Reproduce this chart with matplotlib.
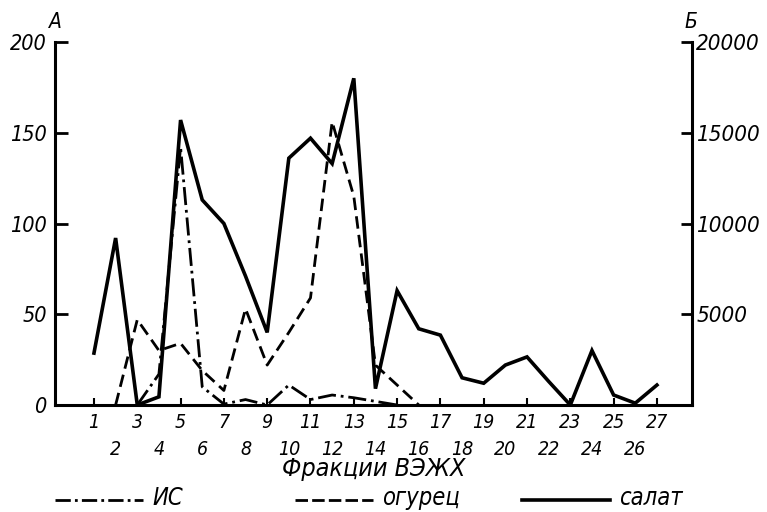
import numpy as np
import matplotlib
matplotlib.use("Agg")
import matplotlib.pyplot as plt
from matplotlib.lines import Line2D

plt.rcParams['font.family'] = ['DejaVu Sans']
plt.rcParams['font.style'] = 'italic'
plt.rcParams['font.stretch'] = 'condensed'
plt.rcParams['lines.scale_dashes'] = False

fractions = list(range(1, 28))
odd_labels = [str(i) for i in fractions if i % 2 == 1]
even_labels = [str(i) for i in fractions if i % 2 == 0]

nan = np.nan
# salat (right axis Б)
salat = [2860, 9200, 0, 450, 15700, 11300, 10000, 7100, 4000, 13600, 14700, 13300,
         18000, 900, 6300, 4200, 3850, 1500, 1200, 2200, 2650, 1300, 0, 3000, 550, 100, 1100]
# ogurets (left axis A)
ogurets = [nan, 0, 47, 30, 34, 19, 8, 53, 22, 40, 59, 156, 115, 22, 11, 0,
           nan, nan, nan, nan, nan, nan, nan, nan, nan, nan, nan]
# IC (left axis A)
ic = [nan, nan, 0, 17, 142, 10, 0.5, 3, 0, 11, 3, 5.5, 4, 2, 0,
      nan, nan, nan, nan, nan, nan, nan, nan, nan, nan, nan, nan]

left_ticks = [0, 50, 100, 150, 200]
right_ticks = [5000, 10000, 15000, 20000]

fig = plt.figure(figsize=(7.67, 5.12), dpi=100)
ax = fig.add_axes([55/767, 107/512, (692-55)/767, 363/512])
ax2 = ax.twinx()

dash = (9, 4.5)
dashdot = (13, 3.5, 2, 3.5)

ax.plot(fractions, ic, color='black', lw=2.0, dashes=dashdot, solid_joinstyle='miter')
ax.plot(fractions, ogurets, color='black', lw=2.0, dashes=dash)
ax2.plot(fractions, salat, color='black', lw=2.6, solid_joinstyle='miter')

ax.set_xlim(-0.8, 28.62)
ax.set_ylim(0, 200)
ax2.set_ylim(0, 20000)

for a in (ax, ax2):
    a.spines['top'].set_visible(False)
    for s in a.spines.values():
        s.set_linewidth(2.2)
ax.spines['right'].set_visible(False)
ax2.spines['left'].set_visible(False)
ax2.spines['bottom'].set_visible(False)

ax.set_yticks(left_ticks)
ax.set_yticklabels([str(v) for v in left_ticks])
ax2.set_yticks(right_ticks)
ax2.set_yticklabels([str(v) for v in right_ticks])

ax.set_xticks([i for i in fractions if i % 2 == 1])
ax.set_xticklabels(odd_labels)
ax.set_xticks([i for i in fractions if i % 2 == 0], minor=True)
ax.set_xticklabels(even_labels, minor=True)

ax.tick_params(axis='x', which='major', direction='in', length=5, width=1.5,
               labelsize=14, pad=6)
ax.tick_params(axis='x', which='minor', direction='in', length=0,
               labelsize=14, pad=25)
ax.tick_params(axis='y', direction='in', length=9, width=2, labelsize=15.5, pad=6)
ax2.tick_params(axis='y', direction='in', length=8, width=2, labelsize=16, pad=3)

ax.set_xlabel('Фракции ВЭЖХ', fontsize=18, labelpad=-1)

fig.text(55/767, 1 - 22/512, 'A', fontsize=15, ha='center', va='center')
fig.text(691/767, 1 - 22/512, 'Б', fontsize=15, ha='center', va='center')

# legend
ly = 1 - 500/512
tb = 1 - 505/512
fig.add_artist(Line2D([55/767, 143/767], [ly, ly], color='black', lw=2.0,
                      dashes=(11, 3, 2, 3), transform=fig.transFigure))
fig.text(152/767, tb, 'ИС', fontsize=17, ha='left', va='baseline')
fig.add_artist(Line2D([295/767, 373/767], [ly, ly], color='black', lw=2.0,
                      dashes=(9, 3), transform=fig.transFigure))
fig.text(382/767, tb, 'огурец', fontsize=17, ha='left', va='baseline')
fig.add_artist(Line2D([522/767, 610/767], [ly, ly], color='black', lw=2.6,
                      transform=fig.transFigure))
fig.text(619/767, tb, 'салат', fontsize=17, ha='left', va='baseline')

fig.savefig('out.png', dpi=100)
